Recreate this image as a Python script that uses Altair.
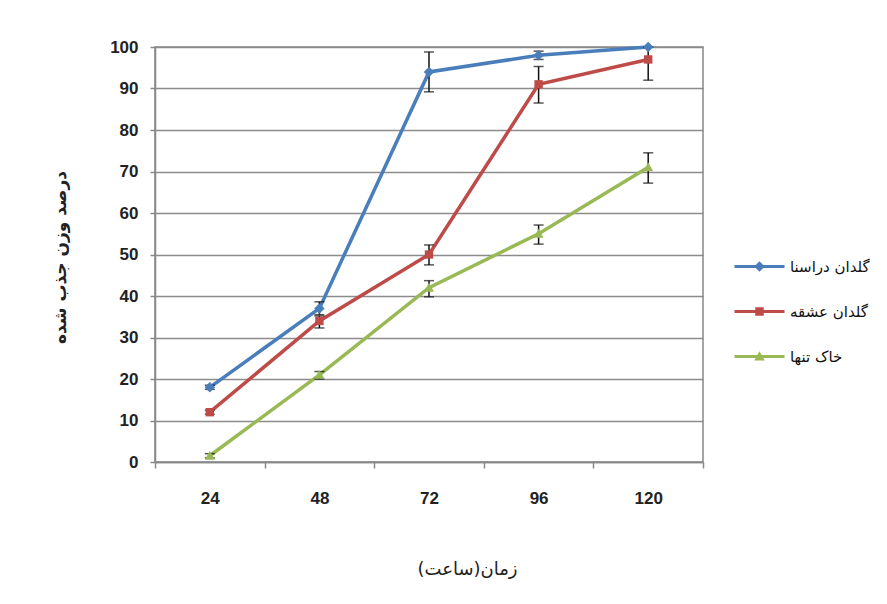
import altair as alt
import pandas as pd

hours = [24, 48, 72, 96, 120]
series_names = ["گلدان دراسنا", "گلدان عشقه", "خاک تنها"]

dracaena = [18, 37, 94, 98, 100]
ivy = [12, 34, 50, 91, 97]
soil = [1.5, 21, 42, 55, 71]

dracaena_lo = [17.5, 35.5, 89.2, 97, 100]
dracaena_hi = [18.5, 38.6, 98.8, 99, 100]
ivy_lo = [11.5, 32.3, 47.5, 86.5, 92]
ivy_hi = [12.5, 35.2, 52.3, 95.3, 100]
soil_lo = [1, 20, 39.8, 52.5, 67.2]
soil_hi = [2, 21.8, 43.7, 57.1, 74.5]

colors = ["#4A7EBB", "#BE4B48", "#98B954"]
y_ticks = [0, 10, 20, 30, 40, 50, 60, 70, 80, 90, 100]

x_title = "زمان(ساعت)\u200f"
y_title = "درصد وزن جذب شده"

rows = []
for name, vals, lo, hi in [
    (series_names[0], dracaena, dracaena_lo, dracaena_hi),
    (series_names[1], ivy, ivy_lo, ivy_hi),
    (series_names[2], soil, soil_lo, soil_hi),
]:
    for h, v, l, u in zip(hours, vals, lo, hi):
        rows.append({"hour": h, "series": name, "value": v, "lo": l, "hi": u})
df = pd.DataFrame(rows)

marker_paths = [
    "M0,-1L1,0L0,1L-1,0Z",
    "M-0.8,-0.8H0.8V0.8H-0.8Z",
    "M0,-0.95L0.95,0.75H-0.95Z",
]
legend_paths = [
    "M-2,-0.12H2V0.12H-2Z M0,-0.42L0.42,0L0,0.42L-0.42,0Z",
    "M-2,-0.12H2V0.12H-2Z M-0.34,-0.34H0.34V0.34H-0.34Z",
    "M-2,-0.12H2V0.12H-2Z M0,-0.42L0.42,0.32H-0.42Z",
]

x_enc = alt.X(
    "hour:O",
    scale=alt.Scale(type="band", paddingInner=0, paddingOuter=0),
    axis=alt.Axis(
        title=x_title,
        tickBand="extent",
        labelAngle=0,
        labelFont="Liberation Sans",
        labelFontWeight="bold",
        labelFontSize=17,
        labelColor="#222222",
        labelPadding=22,
        tickSize=6,
        tickColor="#888888",
        tickWidth=1.5,
        domainColor="#888888",
        domainWidth=1.5,
        titleFont="DejaVu Sans",
        titleFontSize=18,
        titleFontWeight="normal",
        titleColor="#222222",
        titlePadding=54,
        titleX=312,
        grid=False,
    ),
)
y_enc = alt.Y(
    "value:Q",
    scale=alt.Scale(domain=[0, 100], nice=False),
    axis=alt.Axis(
        title=y_title,
        values=y_ticks,
        labelFont="Liberation Sans",
        labelFontWeight="bold",
        labelFontSize=17,
        labelColor="#222222",
        labelPadding=12,
        tickSize=5,
        tickColor="#888888",
        tickWidth=1.5,
        domainColor="#888888",
        domainWidth=1.5,
        gridColor="#8c8c8c",
        gridWidth=1.5,
        titleFont="DejaVu Sans",
        titleFontSize=17,
        titleFontWeight="bold",
        titleColor="#222222",
        titlePadding=40,
        titleY=210,
    ),
)

color_scale = alt.Scale(domain=series_names, range=colors)

base = alt.Chart(df)

err_rule = base.mark_rule(color="#111111", strokeWidth=1.5).encode(
    x=x_enc, y="lo:Q", y2="hi:Q"
)
err_lo = base.mark_tick(color="#111111", thickness=1.5, size=10).encode(x=x_enc, y="lo:Q")
err_hi = base.mark_tick(color="#111111", thickness=1.5, size=10).encode(x=x_enc, y="hi:Q")

lines = base.mark_line(strokeWidth=3.5).encode(
    x=x_enc,
    y=y_enc,
    color=alt.Color("series:N", scale=color_scale, legend=None),
    detail="series:N",
)

points = base.mark_point(filled=True, opacity=1, size=110).encode(
    x=x_enc,
    y="value:Q",
    color=alt.Color("series:N", scale=color_scale, legend=None),
    shape=alt.Shape("series:N", scale=alt.Scale(domain=series_names, range=marker_paths), legend=None),
)

legend_layer = base.transform_filter("false").mark_point(filled=True, opacity=1).encode(
    x=x_enc,
    y="value:Q",
    color=alt.Color(
        "series:N",
        scale=alt.Scale(domain=series_names, range=colors),
        legend=alt.Legend(title=None),
    ),
    shape=alt.Shape(
        "series:N",
        scale=alt.Scale(domain=series_names, range=legend_paths),
        legend=alt.Legend(title=None),
    ),
)

chart = (
    alt.layer(lines, err_rule, err_lo, err_hi, points, legend_layer)
    .resolve_scale(color="independent", shape="independent")
    .properties(
        width=548,
        height=415,
        autosize=alt.AutoSizeParams(type="none"),
        padding={"left": 147, "top": 39, "right": 176, "bottom": 130},
        background="white",
    )
    .configure_view(stroke="#888888", strokeWidth=1.5)
    .configure_legend(
        orient="none",
        legendX=592,
        legendY=207,
        symbolSize=625,
        symbolStrokeWidth=0,
        labelFont="DejaVu Sans",
        labelFontSize=15,
        labelColor="#111111",
        labelOffset=18,
        rowPadding=24,
        labelLimit=200,
    )
)

chart.save("out.html", embed_options={"renderer": "svg", "actions": False})
